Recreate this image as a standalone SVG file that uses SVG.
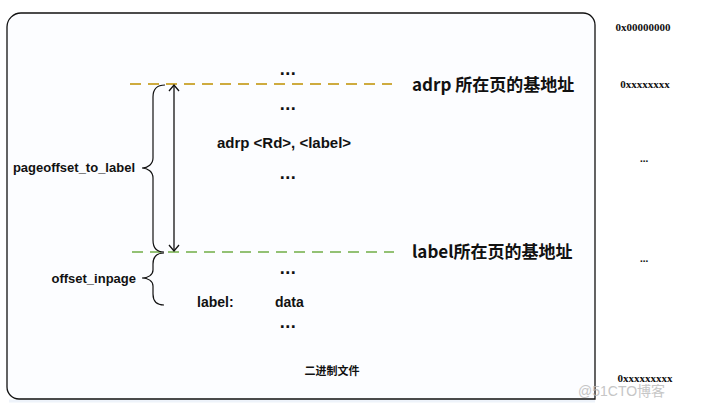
<svg xmlns="http://www.w3.org/2000/svg" width="713" height="411" viewBox="0 0 713 411">
<defs>
<style>
.t{font-family:"Liberation Sans","Noto Sans CJK SC",sans-serif;font-weight:bold;fill:#111}
.cjk{font-family:"Noto Sans CJK SC","Liberation Sans",sans-serif;font-weight:bold;fill:#111}
.s{font-family:"Liberation Serif","Noto Sans CJK SC",serif;font-weight:bold;fill:#111;font-size:11px}
.dots{font-family:"Liberation Sans",sans-serif;font-weight:bold;font-size:18px;fill:#111;letter-spacing:0.5px}
.brace{fill:none;stroke:#111;stroke-width:1.2}
</style>
<marker id="ah" viewBox="0 0 12 12" refX="11" refY="6" markerWidth="12" markerHeight="12" markerUnits="userSpaceOnUse" orient="auto-start-reverse">
<path d="M5,1 L11,6 L5,11" fill="none" stroke="#111" stroke-width="1.3"/>
</marker>
</defs>
<rect width="713" height="411" fill="#ffffff"/>
<g id="file-box">
<path d="M9,401 L595,401" stroke="#eef3fa" stroke-width="3"/>
<path d="M7,386 L7,27 A14,14 0 0 1 21,13 L583,13 A12,12 0 0 1 595,25 L595,399 L19,399 A12,12 0 0 1 7,387 Z" fill="#fcfdff" stroke="#111" stroke-width="1.3"/>
<text class="cjk" x="332" y="375" font-size="11" text-anchor="middle" font-weight="normal">二进制文件</text>
</g>
<g id="connectors">
<line x1="130" y1="84" x2="392" y2="84" stroke="#BF9000" stroke-width="1.5" stroke-dasharray="11,7"/>
<line x1="132" y1="252" x2="394" y2="252" stroke="#70AD47" stroke-width="1.5" stroke-dasharray="11,7"/>
<line x1="174" y1="85" x2="174" y2="251" stroke="#111" stroke-width="1.3" marker-start="url(#ah)" marker-end="url(#ah)"/>
<path class="brace" d="M165,85 C157,85 153,89 153,97 L153,158 C153,164 148,168 142,168 C148,168 153,172 153,178 L153,240 C153,248 157,252 164,252"/>
<path class="brace" d="M164,253 C157,253 153,257 153,264 L153,270 C153,275 148,278 142,278 C148,278 153,281 153,286 L153,294 C153,301 157,305 164,305"/>
</g>
<g id="code">
<text class="dots" x="288" y="75" text-anchor="middle">...</text>
<text class="dots" x="288" y="110" text-anchor="middle">...</text>
<text class="t" x="284" y="148" font-size="15" text-anchor="middle">adrp &lt;Rd&gt;, &lt;label&gt;</text>
<text class="dots" x="288" y="179" text-anchor="middle">...</text>
<text class="dots" x="288" y="274" text-anchor="middle">...</text>
<text class="t" x="197" y="307" font-size="14">label:</text>
<text class="t" x="275" y="307" font-size="14">data</text>
<text class="dots" x="288" y="328" text-anchor="middle">...</text>
</g>
<g id="page-labels">
<text class="cjk" x="412" y="91" font-size="17">adrp 所在页的基地址</text>
<text class="cjk" x="412" y="258" font-size="17">label所在页的基地址</text>
</g>
<g id="brace-labels">
<text class="t" x="135" y="172" font-size="13" text-anchor="end">pageoffset_to_label</text>
<text class="t" x="136" y="283" font-size="13" text-anchor="end">offset_inpage</text>
</g>
<g id="addresses">
<text class="s" x="643" y="31" text-anchor="middle">0x00000000</text>
<text class="s" x="645" y="88" text-anchor="middle">0xxxxxxxx</text>
<text class="s" x="644" y="162" text-anchor="middle">...</text>
<text class="s" x="644" y="262" text-anchor="middle">...</text>
<text class="s" x="645" y="382" text-anchor="middle">0xxxxxxxxx</text>
</g>
<text x="578" y="396" font-family="Liberation Sans,Noto Sans CJK SC,sans-serif" font-size="14" fill="#b8b8b8" opacity="0.8">@51CTO博客</text>
</svg>
